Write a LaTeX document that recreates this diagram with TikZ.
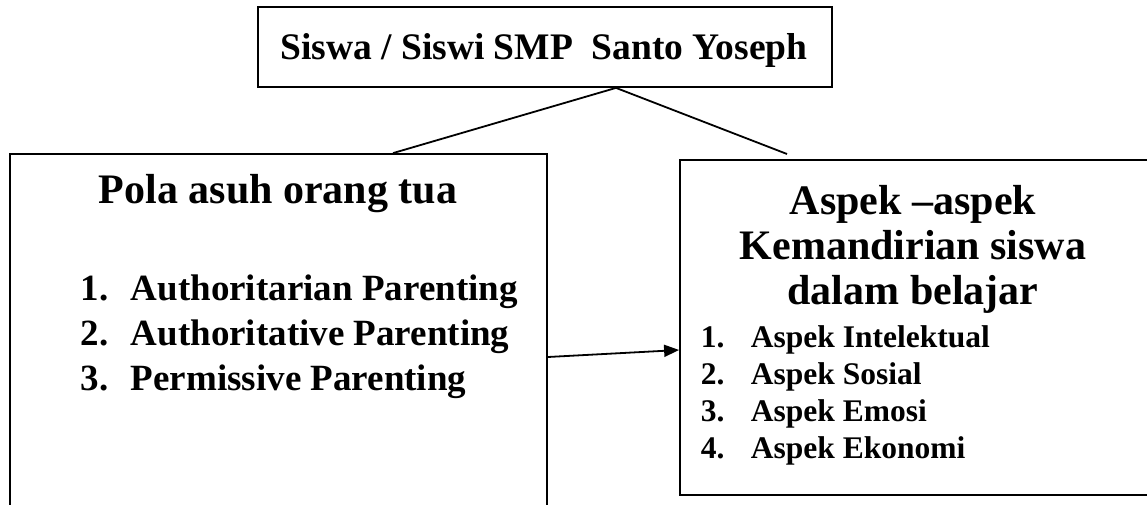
\documentclass[tikz,border=0pt]{standalone}
\usepackage{fontspec}
\setmainfont{Liberation Serif}
\usetikzlibrary{arrows.meta,calc}
\begin{document}
\begin{tikzpicture}[x=1pt,y=-1pt,line width=1.8pt,
  box/.style={draw,line width=1.8pt,inner sep=0pt},
  toptxt/.style={font=\bfseries\fontsize{37.5}{42}\selectfont,inner sep=0pt,anchor=base},
  ttl/.style={font=\bfseries\fontsize{42}{45}\selectfont,inner sep=0pt,anchor=base},
  litem/.style={font=\bfseries\fontsize{37}{40}\selectfont,inner sep=0pt,anchor=base west},
  ritem/.style={font=\bfseries\fontsize{31.5}{34}\selectfont,inner sep=0pt,anchor=base west},
  conn/.style={draw,line width=1.8pt}]
\useasboundingbox (0,0) rectangle (1147,505);
\clip (0,0) rectangle (1147,505);
\fill[white] (0,0) rectangle (1147,505);
% boxes
\node[box,minimum width=574pt,minimum height=80pt] (top) at (545,47) {};
\node[box,minimum width=537pt,minimum height=406pt] (lbox) at (278.5,357) {};
\node[box,minimum width=490pt,minimum height=335pt] (rbox) at (925,327.5) {};
% texts
\node[toptxt] (toptext) at (544,60) {Siswa / Siswi SMP\ \ Santo Yoseph};
\node[ttl] (ltitle) at (278,204) {Pola asuh orang tua};
\node[litem] (l1) at (80,300) {\makebox[50pt][l]{1.}Authoritarian Parenting};
\node[litem] (l2) at (80,345) {\makebox[50pt][l]{2.}Authoritative Parenting};
\node[litem] (l3) at (80,390) {\makebox[50pt][l]{3.}Permissive Parenting};
\node[ttl] (r1t) at (913,214) {Aspek –aspek};
\node[ttl] (r2t) at (913,259) {Kemandirian siswa};
\node[ttl] (r3t) at (913,304) {dalam belajar};
\node[ritem] (r1) at (700,347) {\makebox[50pt][l]{1.}Aspek Intelektual};
\node[ritem] (r2) at (700,384) {\makebox[50pt][l]{2.}Aspek Sosial};
\node[ritem] (r3) at (700,421) {\makebox[50pt][l]{3.}Aspek Emosi};
\node[ritem] (r4) at (700,458) {\makebox[50pt][l]{4.}Aspek Ekonomi};
% connectors
\coordinate (apex) at ($(top.south)+(71,0)$);
\coordinate (rend) at (787,154);
\draw[conn] (apex) -- ($(lbox.north)+(114.5,0)$);
\draw[conn] (apex) -- (rend);
\draw[conn,-{Triangle[length=15pt,width=12pt]}] (lbox.east) -- ($(rbox.west)+(0,22.5)$);
\end{tikzpicture}
\end{document}
